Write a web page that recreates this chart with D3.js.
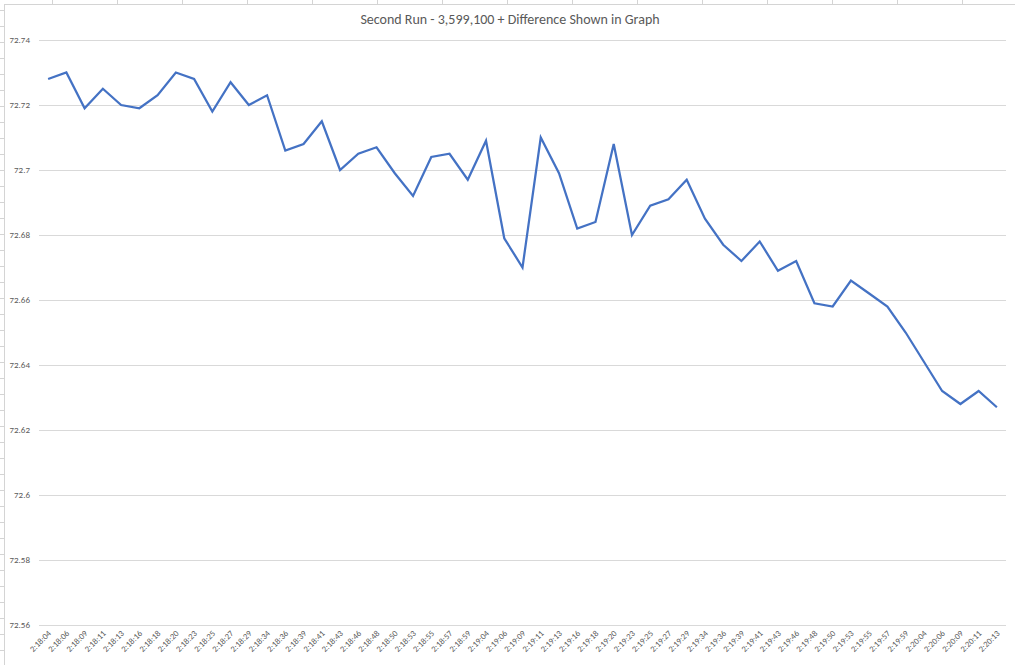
<!DOCTYPE html>
<html><head><meta charset="utf-8">
<script src="https://cdn.jsdelivr.net/npm/d3@7"></script>
<style>
html,body{margin:0;padding:0;background:#fff;}
svg{display:block;font-family:Calibri,Carlito,"Liberation Sans","Open Sans",sans-serif;}
</style></head>
<body>
<svg id="c" width="1015" height="665"></svg>
<script>
const categories = ["2:18:04","2:18:06","2:18:09","2:18:11","2:18:13","2:18:16","2:18:18","2:18:20","2:18:23","2:18:25","2:18:27","2:18:29","2:18:34","2:18:36","2:18:39","2:18:41","2:18:43","2:18:46","2:18:48","2:18:50","2:18:53","2:18:55","2:18:57","2:18:59","2:19:04","2:19:06","2:19:09","2:19:11","2:19:13","2:19:16","2:19:18","2:19:20","2:19:23","2:19:25","2:19:27","2:19:29","2:19:34","2:19:36","2:19:39","2:19:41","2:19:43","2:19:46","2:19:48","2:19:50","2:19:53","2:19:55","2:19:57","2:19:59","2:20:04","2:20:06","2:20:09","2:20:11","2:20:13"];
const values = [72.728,72.730,72.719,72.725,72.720,72.719,72.723,72.730,72.728,72.718,72.727,72.720,72.723,72.706,72.708,72.715,72.700,72.705,72.707,72.699,72.692,72.704,72.705,72.697,72.709,72.679,72.670,72.710,72.699,72.682,72.684,72.708,72.680,72.689,72.691,72.697,72.685,72.677,72.672,72.678,72.669,72.672,72.659,72.658,72.666,72.662,72.658,72.650,72.641,72.632,72.628,72.632,72.627];
const yTicks = [72.56,72.58,72.6,72.62,72.64,72.66,72.68,72.7,72.72,72.74];
const title = "Second Run - 3,599,100 + Difference Shown in Graph";

(function () {
const svg = d3.select("#c");
const W = 1015, H = 665;
const mLeft = 39, mRight = 1006, mTop = 40, mBottom = 625;

// spreadsheet background peeking around the chart
const bg = svg.append("g");
for (let cx = 52; cx < W; cx += 65) bg.append("line").attr("x1",cx + 0.5).attr("x2",cx + 0.5).attr("y1",0).attr("y2",4).attr("stroke","#d4d4d4");
for (let cy = 10.5; cy < H; cy += 16) bg.append("line").attr("x1",0).attr("x2",4).attr("y1",cy).attr("y2",cy).attr("stroke","#d4d4d4");
bg.append("rect").attr("x",4.5).attr("y",4.5).attr("width",W).attr("height",H).attr("fill","#fff").attr("stroke","#d4d4d4");

const x = d3.scalePoint().domain(categories).range([mLeft, mRight]).padding(0.5);
const y = d3.scaleLinear().domain([72.56, 72.74]).range([mBottom, mTop]);

// gridlines
svg.append("g").selectAll("line").data(yTicks).join("line")
  .attr("x1", mLeft).attr("x2", mRight)
  .attr("y1", d => Math.round(y(d)) + 0.5).attr("y2", d => Math.round(y(d)) + 0.5)
  .attr("stroke", "#d9d9d9").attr("stroke-width", 1);

// y axis labels
const yAxis = d3.axisLeft(y).tickValues(yTicks).tickSize(0).tickPadding(0).tickFormat(d => String(+d.toFixed(2)));
const gy = svg.append("g").attr("transform", `translate(${mLeft - 9},0)`).call(yAxis);
gy.attr("font-family", null);
gy.select(".domain").remove();
gy.selectAll("text").attr("fill", "#595959").attr("font-size", "9px");

// x axis labels
const xAxis = d3.axisBottom(x).tickSize(0).tickPadding(0);
const gx = svg.append("g").attr("transform", `translate(0,${mBottom})`).call(xAxis);
gx.attr("font-family", null);
gx.select(".domain").remove();
gx.selectAll("text")
  .attr("fill", "#595959").attr("font-size", "8.5px")
  .attr("text-anchor", "end").attr("dy", null).attr("y", 0)
  .attr("transform", "translate(3,9) rotate(-45)");

// line
const line = d3.line().x((d, i) => x(categories[i])).y(d => y(d));
svg.append("path").datum(values).attr("d", line)
  .attr("fill", "none").attr("stroke", "#4472C4").attr("stroke-width", 2.25)
  .attr("stroke-linejoin", "miter");

// title
svg.append("text").attr("x", 510).attr("y", 24).attr("text-anchor", "middle")
  .attr("fill", "#595959").attr("font-size", "14px").text(title);
})();
</script>
</body></html>
